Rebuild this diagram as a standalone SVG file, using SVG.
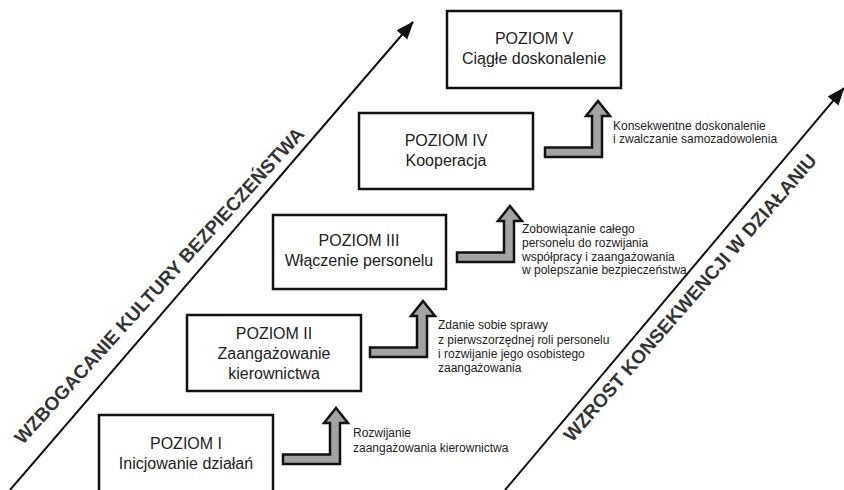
<svg xmlns="http://www.w3.org/2000/svg" width="844" height="490" viewBox="0 0 844 490">
<style>
.box{fill:#fff;stroke:#111;stroke-width:2.5}
.bt{font-family:"Liberation Sans",Arial,sans-serif;font-size:16px;fill:#222;text-anchor:middle}
.st{font-family:"Liberation Sans",Arial,sans-serif;font-size:12px;fill:#222}
.blk{fill:#a3a3a3;stroke:#111;stroke-width:2.5;stroke-linejoin:miter}
.diag{stroke:#111;stroke-width:2;fill:none}
.dt{font-family:"Liberation Sans",Arial,sans-serif;font-size:19px;font-weight:bold;fill:#333;text-anchor:middle}
</style>
<defs>
<marker id="ah" markerUnits="userSpaceOnUse" markerWidth="20" markerHeight="16" refX="17" refY="7" orient="auto">
<path d="M0,0 L18,7 L0,14 Z" fill="#111"/>
</marker>
<path id="blockArrow" d="M0,0 H57 V-41 H65 L53,-56 L41,-41 H47 V-9.5 H0 Z"/>
</defs>
<rect width="844" height="490" fill="#fff"/>
<g id="connectors">
<line class="diag" x1="10" y1="490" x2="413" y2="22" marker-end="url(#ah)"/>
<line class="diag" x1="505" y1="490" x2="844" y2="88" marker-end="url(#ah)"/>
<use href="#blockArrow" class="blk" transform="translate(283,464)"/>
<use href="#blockArrow" class="blk" transform="translate(370,357)"/>
<use href="#blockArrow" class="blk" transform="translate(457,262)"/>
<use href="#blockArrow" class="blk" transform="translate(545,157)"/>
</g>
<g id="axis-left">
<text class="dt" transform="translate(164,290) rotate(-47.7)">WZBOGACANIE KULTURY BEZPIECZEŃSTWA</text>
</g>
<g id="axis-right">
<text class="dt" transform="translate(695,302) rotate(-48.9)">WZROST KONSEKWENCJI W DZIAŁANIU</text>
</g>
<g id="level1">
<rect class="box" x="99" y="415" width="174" height="90"/>
<text class="bt" x="186" y="449">POZIOM I</text>
<text class="bt" x="186" y="469">Inicjowanie działań</text>
</g>
<g id="level2">
<rect class="box" x="187" y="315" width="174" height="76"/>
<text class="bt" x="274" y="339">POZIOM II</text>
<text class="bt" x="274" y="359">Zaangażowanie</text>
<text class="bt" x="274" y="379">kierownictwa</text>
</g>
<g id="level3">
<rect class="box" x="273" y="215" width="173" height="74"/>
<text class="bt" x="359" y="246">POZIOM III</text>
<text class="bt" x="359" y="266">Włączenie personelu</text>
</g>
<g id="level4">
<rect class="box" x="359" y="113" width="174" height="76"/>
<text class="bt" x="446" y="146">POZIOM IV</text>
<text class="bt" x="446" y="166">Kooperacja</text>
</g>
<g id="level5">
<rect class="box" x="447" y="11" width="174" height="77"/>
<text class="bt" x="534" y="44">POZIOM V</text>
<text class="bt" x="534" y="64">Ciągłe doskonalenie</text>
</g>
<g id="label1">
<text class="st" x="353" y="437">Rozwijanie</text>
<text class="st" x="353" y="452">zaangażowania kierownictwa</text>
</g>
<g id="label2">
<text class="st" x="438" y="329">Zdanie sobie sprawy</text>
<text class="st" x="438" y="344">z pierwszorzędnej roli personelu</text>
<text class="st" x="438" y="358">i rozwijanie jego osobistego</text>
<text class="st" x="438" y="372">zaangażowania</text>
</g>
<g id="label3">
<text class="st" x="522" y="233">Zobowiązanie całego</text>
<text class="st" x="522" y="247">personelu do rozwijania</text>
<text class="st" x="522" y="261">współpracy i zaangażowania</text>
<text class="st" x="522" y="274">w polepszanie bezpieczeństwa</text>
</g>
<g id="label4">
<text class="st" x="613" y="130">Konsekwentne doskonalenie</text>
<text class="st" x="613" y="143">i zwalczanie samozadowolenia</text>
</g>
</svg>
